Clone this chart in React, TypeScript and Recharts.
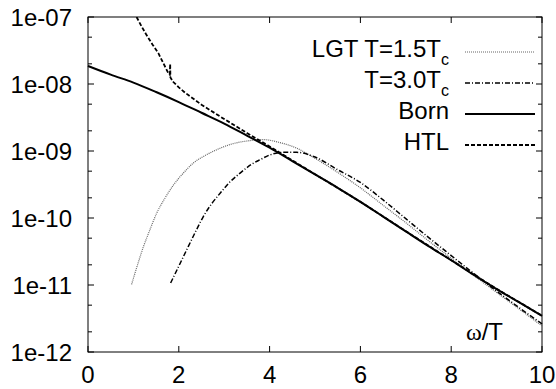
import React from 'react';
import { LineChart, Line, XAxis, YAxis, usePlotArea } from 'recharts';

const FONT = '"Liberation Sans", Arial, Helvetica, sans-serif';

// x = omega/T
const bornX = [0, 0.5, 1, 1.5, 2, 2.5, 3, 3.5, 4, 4.5, 5, 5.5, 6, 6.5, 7, 7.5, 8, 8.5, 9, 9.5, 10];
const bornY = [1.86e-8, 1.38e-8, 1.05e-8, 7.59e-9, 5.37e-9, 3.72e-9, 2.57e-9, 1.7e-9, 1.12e-9, 7.08e-10, 4.47e-10, 2.82e-10, 1.74e-10, 1.05e-10, 6.31e-11, 3.8e-11, 2.34e-11, 1.41e-11, 8.71e-12, 5.5e-12, 3.47e-12];

const htlX = [1.07, 1.18, 1.29, 1.42, 1.55, 1.66, 1.77, 1.8, 1.81, 1.815, 1.88, 2.0, 2.14, 2.5, 2.97, 3.5, 4, 4.5, 5, 6, 7, 8, 9, 10];
const htlY = [1e-7, 7.24e-8, 5.37e-8, 3.89e-8, 2.88e-8, 2.04e-8, 1.45e-8, 1.38e-8, 2.0e-8, 1.25e-8, 1.07e-8, 8.91e-9, 7.41e-9, 4.9e-9, 3.09e-9, 1.86e-9, 1.17e-9, 7.24e-10, 4.5e-10, 1.75e-10, 6.35e-11, 2.35e-11, 8.75e-12, 3.48e-12];

const lgt15X = [0.96, 1.1, 1.22, 1.35, 1.51, 1.7, 1.88, 2.1, 2.32, 2.6, 2.91, 3.2, 3.5, 3.86, 4.2, 4.6, 5, 5.5, 6, 6.5, 7, 7.5, 8, 8.5, 9, 9.5, 10];
const lgt15Y = [1.02e-11, 2.09e-11, 3.72e-11, 6.31e-11, 1.17e-10, 2.0e-10, 3.09e-10, 4.68e-10, 6.61e-10, 8.71e-10, 1.1e-9, 1.29e-9, 1.41e-9, 1.48e-9, 1.35e-9, 1.1e-9, 7.76e-10, 4.79e-10, 2.82e-10, 1.55e-10, 8.51e-11, 4.57e-11, 2.51e-11, 1.38e-11, 7.76e-12, 4.37e-12, 2.45e-12];

const lgt30X = [1.82, 2.0, 2.17, 2.35, 2.54, 2.72, 2.91, 3.1, 3.35, 3.6, 3.79, 4, 4.3, 4.6, 5, 5.5, 6, 6.5, 7, 7.5, 8, 8.5, 9, 9.5, 10];
const lgt30Y = [1.07e-11, 1.91e-11, 3.31e-11, 5.89e-11, 1.05e-10, 1.62e-10, 2.34e-10, 3.31e-10, 4.68e-10, 6.31e-10, 7.41e-10, 8.71e-10, 9.55e-10, 9.55e-10, 8.13e-10, 5.25e-10, 3.39e-10, 1.86e-10, 9.77e-11, 5.13e-11, 2.75e-11, 1.48e-11, 8.13e-12, 4.57e-12, 2.63e-12];

const xTicks = [0, 2, 4, 6, 8, 10];
const yTicks = [1e-12, 1e-11, 1e-10, 1e-9, 1e-8, 1e-7];
const yMinorTicks = [2e-12, 5e-12, 2e-11, 5e-11, 2e-10, 5e-10, 2e-9, 5e-9, 2e-8, 5e-8];

const X_DOMAIN: [number, number] = [0, 10];
const Y_DOMAIN: [number, number] = [1e-12, 1e-7];

const zip = (xs: number[], ys: number[]) => xs.map((x, i) => ({ x, y: ys[i] }));

const formatExp = (v: number) => {
  const e = Math.round(Math.log10(v));
  return `1e-${String(-e).padStart(2, '0')}`;
};

// Border box plus inward ticks on all four sides (gnuplot style)
const Frame = () => {
  const plot = usePlotArea();
  if (!plot) return null;
  const { x, y, width, height } = plot;
  const toX = (v: number) => x + ((v - X_DOMAIN[0]) / (X_DOMAIN[1] - X_DOMAIN[0])) * width;
  const lmin = Math.log10(Y_DOMAIN[0]);
  const lmax = Math.log10(Y_DOMAIN[1]);
  const toY = (v: number) => y + ((lmax - Math.log10(v)) / (lmax - lmin)) * height;
  const major = 6;
  const minor = 4;
  return (
    <g stroke="#000" strokeWidth={1} fill="none">
      <rect x={x} y={y} width={width} height={height} />
      {xTicks.map((t) => (
        <g key={`xt${t}`}>
          <line x1={toX(t)} x2={toX(t)} y1={y + height} y2={y + height - major} />
          <line x1={toX(t)} x2={toX(t)} y1={y} y2={y + major} />
        </g>
      ))}
      {yTicks.map((t) => (
        <g key={`yt${t}`}>
          <line x1={x} x2={x + major} y1={toY(t)} y2={toY(t)} />
          <line x1={x + width} x2={x + width - major} y1={toY(t)} y2={toY(t)} />
        </g>
      ))}
      {yMinorTicks.map((t) => (
        <g key={`ym${t}`}>
          <line x1={x} x2={x + minor} y1={toY(t)} y2={toY(t)} />
          <line x1={x + width} x2={x + width - minor} y1={toY(t)} y2={toY(t)} />
        </g>
      ))}
    </g>
  );
};

const legendItems = [
  { main: 'LGT T=1.5T', sub: 'c', stroke: '#666', width: 1.2, dash: '1 1' },
  { main: 'T=3.0T', sub: 'c', stroke: '#000', width: 1.5, dash: '5 2 1 2' },
  { main: 'Born', sub: '', stroke: '#000', width: 2, dash: undefined },
  { main: 'HTL', sub: '', stroke: '#000', width: 1.8, dash: '4 2' },
];

const Legend = () => (
  <g fontFamily={FONT} fontSize={24} fill="#000">
    {legendItems.map((it, i) => {
      const base = 57 + i * 31;
      return (
        <g key={it.main}>
          <text x={449} y={base} textAnchor="end">
            {it.main}
            {it.sub && <tspan dy={8} fontSize={16}>{it.sub}</tspan>}
          </text>
          <line x1={465} x2={535} y1={base - 5} y2={base - 5} stroke={it.stroke} strokeWidth={it.width} strokeDasharray={it.dash} />
        </g>
      );
    })}
    <text x={503} y={340} textAnchor="end">
      <tspan fontFamily='"Liberation Serif", "DejaVu Serif", serif'>ω</tspan>/T
    </text>
  </g>
);

export default function App() {
  return (
    <div style={{ position: 'absolute', left: 0, top: 0, background: '#fff' }}>
      <LineChart width={556} height={389} margin={{ top: 17, right: 14, bottom: 0, left: 0 }}>
        <XAxis
          type="number"
          dataKey="x"
          domain={X_DOMAIN}
          ticks={xTicks}
          height={37}
          axisLine={false}
          tickLine={false}
          tickSize={6}
          tickMargin={8}
          tick={{ fontSize: 24, fill: '#000', fontFamily: FONT }}
        />
        <YAxis
          type="number"
          scale="log"
          domain={Y_DOMAIN}
          allowDataOverflow
          ticks={yTicks}
          tickFormatter={formatExp}
          width={88}
          axisLine={false}
          tickLine={false}
          tickSize={6}
          tickMargin={10}
          tick={{ fontSize: 24, fill: '#000', fontFamily: FONT }}
        />
        <Line data={zip(lgt15X, lgt15Y)} dataKey="y" type="monotone" stroke="#666" strokeWidth={1.2} strokeDasharray="1 1" dot={false} isAnimationActive={false} />
        <Line data={zip(lgt30X, lgt30Y)} dataKey="y" type="monotone" stroke="#000" strokeWidth={1.5} strokeDasharray="5 2 1 2" dot={false} isAnimationActive={false} />
        <Line data={zip(bornX, bornY)} dataKey="y" type="monotone" stroke="#000" strokeWidth={2} dot={false} isAnimationActive={false} />
        <Line data={zip(htlX, htlY)} dataKey="y" type="linear" stroke="#000" strokeWidth={1.8} strokeDasharray="4 2" dot={false} isAnimationActive={false} />
        <Frame />
        <Legend />
      </LineChart>
    </div>
  );
}
